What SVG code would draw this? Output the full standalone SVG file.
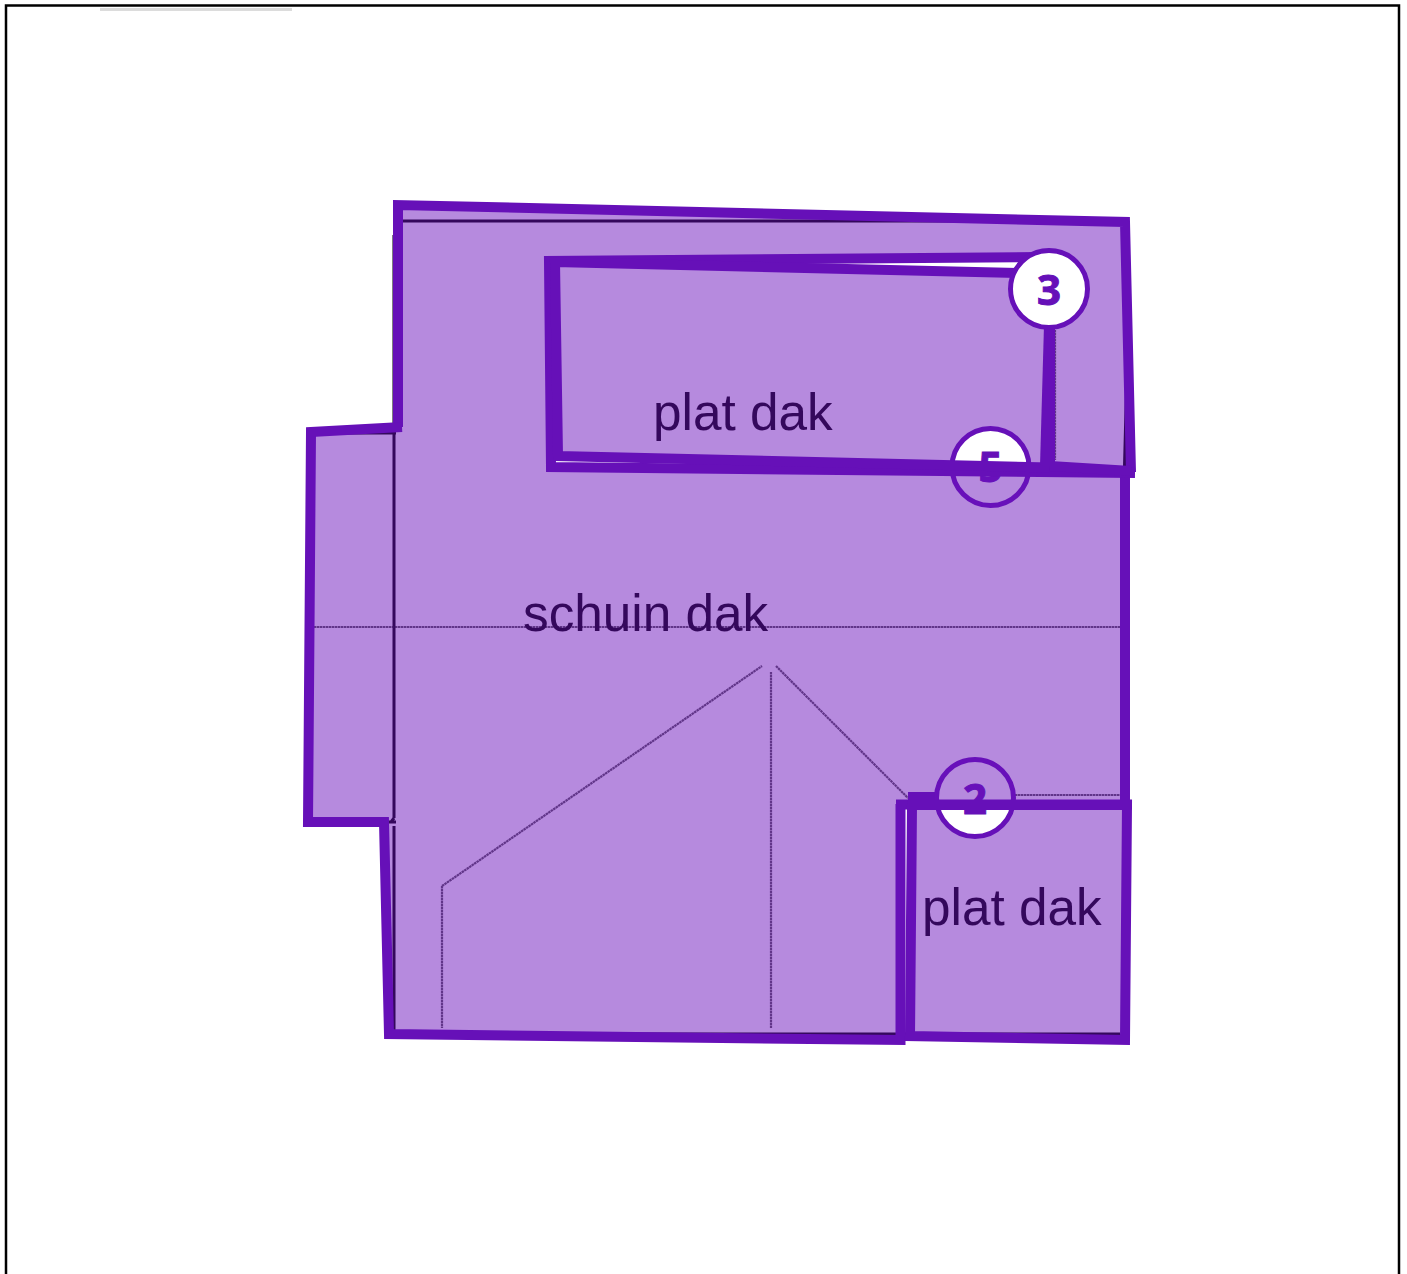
<svg xmlns="http://www.w3.org/2000/svg" width="1407" height="1274" viewBox="0 0 1407 1274">
<style>
.plan{fill:none;stroke:#000;stroke-width:3}
.pencil{fill:none;stroke:#111;stroke-width:2.200;stroke-opacity:.7;stroke-dasharray:2.500 .5}
.tint{fill:#6a10bc;fill-opacity:.49;fill-rule:evenodd}
.edge{fill:none;stroke:#6610b8;stroke-width:10;stroke-linejoin:miter}
.lab{font-family:"Liberation Sans",Arial,sans-serif;font-size:51.300px;fill:#000}
.circ{fill:#fff;stroke:#6610b8;stroke-width:5}
.num{font-family:"Noto Sans",sans-serif;font-weight:700;font-size:42px;fill:#6610b8;text-anchor:middle;stroke:#6610b8;stroke-width:1}
</style>
<rect width="1407" height="1274" fill="#fff"/>
<rect x="6" y="5.500" width="1393" height="1320" fill="none" stroke="#000" stroke-width="2.500"/>
<rect x="100" y="8" width="192" height="3" fill="#dcdcdc"/>
<g id="plan-lines">
<path class="plan" d="M393 221H1126M394 235V818M391 822L394 818M394 826V1030M314 433H396M386 822H396M393 1034H1120M1127 370L1124.500 466"/>
<path class="pencil" d="M314 627H1122M442 886L762 666M776 666L908 798M771 672V1028M442 886V1028M1015 795H1122M1055 330V460"/>
</g>
<g id="labels">
<text class="lab" x="653" y="430">plat dak</text>
<text class="lab" x="523" y="631">schuin dak</text>
<text class="lab" x="922" y="925">plat dak</text>
</g>
<g id="roof-flat-fills">
<path class="tint" d="M555 262L1020 273L1048 290L1047 467L555 456Z"/>
<path class="tint" d="M912 805H1127L1125 1040L910 1036Z"/>
</g>
<g id="badge-5">
<circle class="circ" cx="990.500" cy="467" r="38.500"/>
<text class="num" x="990.500" y="482">5</text>
</g>
<g id="badge-2">
<circle class="circ" cx="975" cy="798" r="38.500"/>
<text class="num" x="975" y="814">2</text>
</g>
<g id="roof-pitched-fill">
<path class="tint" d="M398 205L1125 222L1131 472L1125 472V804H900V1040L389 1034L384 822H308L311 432L398 427ZM549 261L1040 257L1050 290L1047 466L551 467Z"/>
</g>
<g id="connectors">
<path class="edge" d="M398 427V205L1125 222L1131 472"/>
<path class="edge" d="M1125 470V804"/>
<path class="edge" d="M1132 804.500H896"/>
<path class="edge" d="M900.500 804V1040L389 1034L384 822H308L311 432L402 427"/>
<rect x="908" y="792" width="27" height="9" fill="#6610b8"/>
<path class="edge" d="M912 805H1127L1125 1040L910 1036Z"/>
<path class="edge" d="M1040 257L549 261L551 467L1135 473"/>
<path class="edge" d="M1020 273L555 262L558 456L1050 467.500"/>
<path class="edge" d="M1050 466L1131 471"/>
<polygon points="1044,325 1055,325 1055,466 1040,466" fill="#6610b8"/>
</g>
<g id="badge-3">
<circle class="circ" cx="1049" cy="289" r="38.500"/>
<text class="num" x="1049" y="305">3</text>
</g>
</svg>
